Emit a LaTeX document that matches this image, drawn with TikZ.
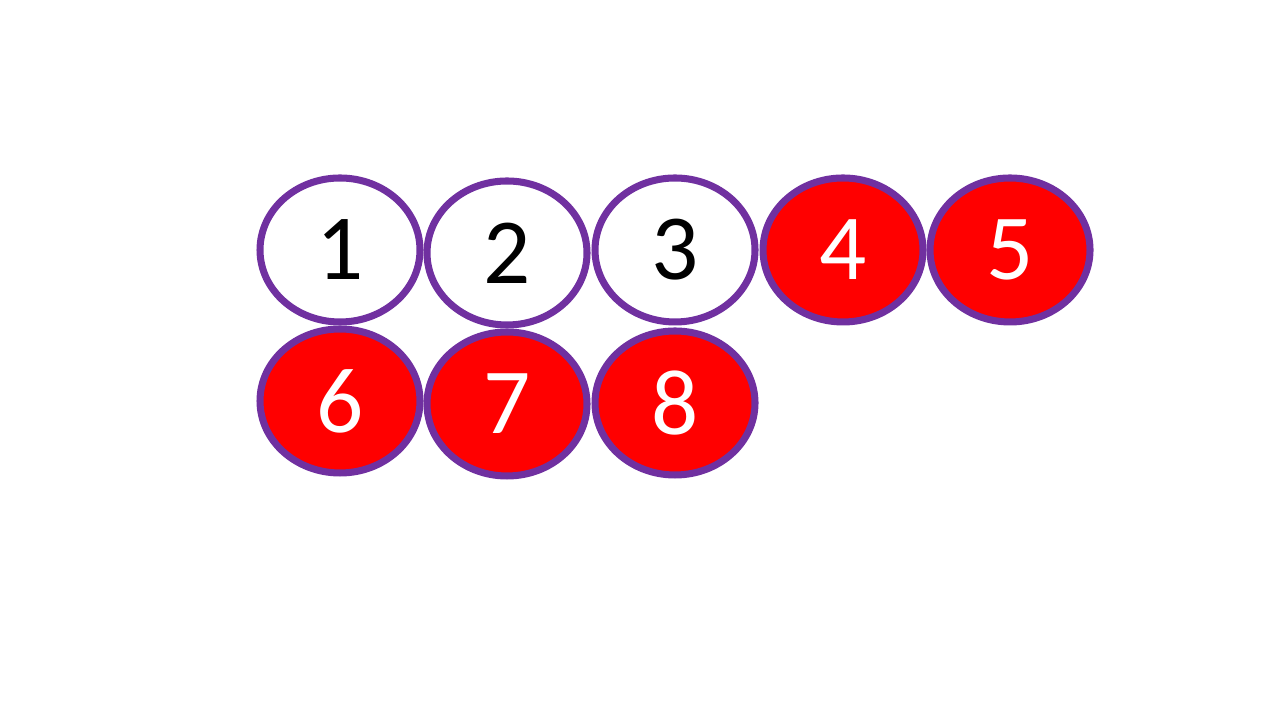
\documentclass[tikz,border=0pt]{standalone}
\usepackage{fontspec}
\setmainfont{Carlito}
\usepackage{xcolor}
\definecolor{p1}{HTML}{7030A0}
\definecolor{r1}{HTML}{FF0000}
\usetikzlibrary{shapes.geometric}

\tikzset{
  ball/.style={ellipse,draw=p1,line width=2pt,minimum width=1.6cm,minimum height=1.44cm,inner sep=0pt,font=\fontsize{26.5}{30}\selectfont},
  blank/.style={ball,fill=white,text=black},
  hit/.style={ball,fill=r1,text=white}
}

\begin{document}
\begin{tikzpicture}
  \useasboundingbox (0,0) rectangle (12.8,7.2);
  \node[blank] (b1) at (3.40,4.70) {1};
  \node[blank] (b2) at (5.07,4.67) {2};
  \node[blank] (b3) at (6.75,4.70) {3};
  \node[hit] (b4) at (8.43,4.70) {4};
  \node[hit] (b5) at (10.10,4.70) {5};
  % second row
  \node[hit] (b6) at (3.40,3.19) {6};
  \node[hit] (b7) at (5.07,3.16) {7};
  \node[hit] (b8) at (6.75,3.17) {8};
\end{tikzpicture}
\end{document}
